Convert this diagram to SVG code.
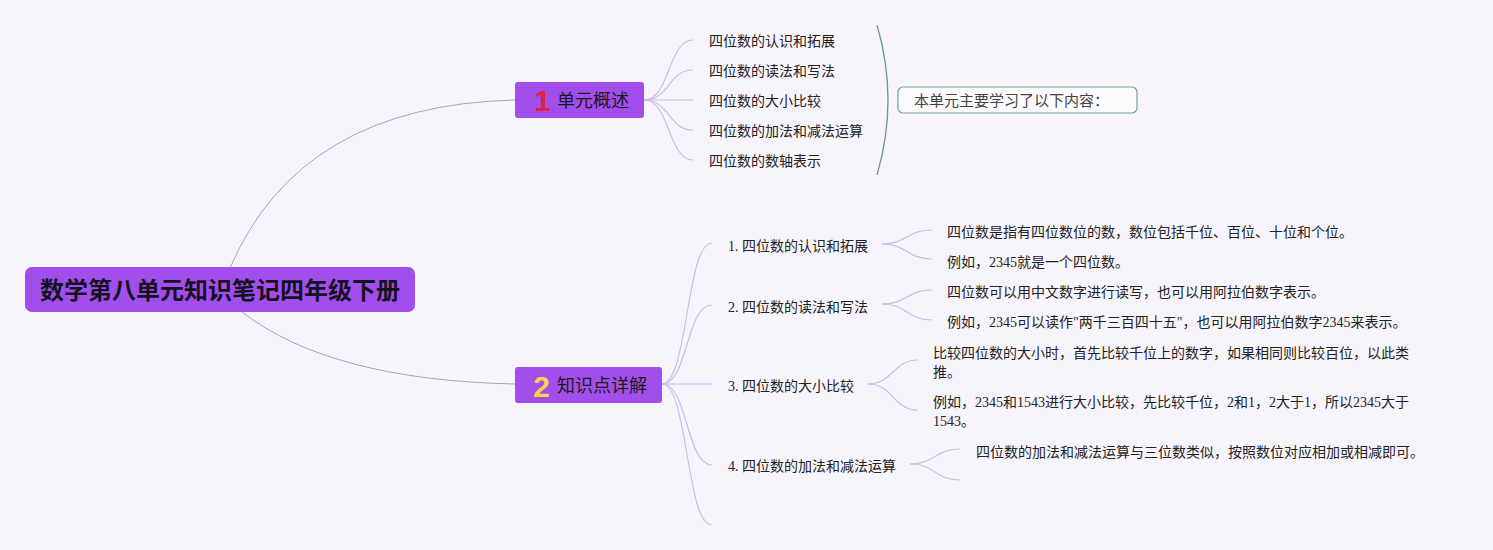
<svg xmlns="http://www.w3.org/2000/svg" width="1493" height="550" viewBox="0 0 1493 550">
<style>
.bg{fill:#f7f5fb}
.main{fill:#a24eec}
.root-t{font-family:"Liberation Sans","Noto Sans CJK SC",sans-serif;font-size:24px;font-weight:bold;fill:#15121f}
.n1-t{font-family:"Liberation Sans","Noto Sans CJK SC",sans-serif;font-size:18px;fill:#1a1a1a}
.badge{font-family:"Liberation Sans","Noto Sans CJK SC",sans-serif;font-size:30px;font-weight:900}
.leaf{font-family:"Liberation Serif","Noto Sans CJK SC",serif;font-size:14px;fill:#222}
.sum-t{font-family:"Liberation Sans","Noto Sans CJK SC",sans-serif;font-size:15px;fill:#444}
.c-root{fill:none;stroke:#aaa3c6;stroke-width:1}
.c{fill:none;stroke:#c8bfe4;stroke-width:1.2}
</style>
<rect class="bg" x="0" y="0" width="1493" height="550"/>
<g id="connectors">
<path class="c-root" d="M230,268 Q300,105 515,100"/>
<path class="c-root" d="M242,312 Q330,380 515,384"/>
<path class="c" d="M644,100 C670,100 668,40 693,40"/>
<path class="c" d="M644,100 C670,100 668,70 693,70"/>
<path class="c" d="M644,100 L693,100"/>
<path class="c" d="M644,100 C670,100 668,130 693,130"/>
<path class="c" d="M644,100 C670,100 668,160 693,160"/>
<path class="c" d="M662,384 C688,384 686,243 712,243"/>
<path class="c" d="M662,384 C688,384 686,305 712,305"/>
<path class="c" d="M662,384 L712,384"/>
<path class="c" d="M662,384 C688,384 686,465 712,465"/>
<path class="c" d="M662,384 C688,384 686,525 712,525"/>
<path class="c" d="M882,244 C907,244 907,230 932,230"/>
<path class="c" d="M882,244 C907,244 907,259 932,259"/>
<path class="c" d="M882,304 C907,304 907,290 932,290"/>
<path class="c" d="M882,304 C907,304 907,320 932,320"/>
<path class="c" d="M868,384 C893,384 893,360 918,360"/>
<path class="c" d="M868,384 C893,384 893,410 918,410"/>
<path class="c" d="M910,464 C935,464 935,449 960,449"/>
<path class="c" d="M910,464 C935,464 935,480 960,480"/>
<path d="M877,25 Q899,100 877,175" fill="none" stroke="#5f9c8c" stroke-width="1.3"/>
</g>
<g id="root">
<rect class="main" x="25" y="267" width="390" height="45" rx="7"/>
<text class="root-t" x="220" y="290" text-anchor="middle" dominant-baseline="central">数学第八单元知识笔记四年级下册</text>
</g>
<g id="node-1">
<rect class="main" x="515" y="82" width="129" height="36" rx="3"/>
<text class="badge" x="542.5" y="100" text-anchor="middle" dominant-baseline="central" fill="#e2213c">1</text>
<text class="n1-t" x="557" y="101" dominant-baseline="central">单元概述</text>
</g>
<g id="node-2">
<rect class="main" x="515" y="367" width="147" height="36" rx="3"/>
<text class="badge" x="541.5" y="386" text-anchor="middle" dominant-baseline="central" fill="#f7d24f">2</text>
<text class="n1-t" x="557" y="386" dominant-baseline="central">知识点详解</text>
</g>
<g id="n1-leaves">
<text class="leaf" x="709" y="41" dominant-baseline="central">四位数的认识和拓展</text>
<text class="leaf" x="709" y="71" dominant-baseline="central">四位数的读法和写法</text>
<text class="leaf" x="709" y="101" dominant-baseline="central">四位数的大小比较</text>
<text class="leaf" x="709" y="131" dominant-baseline="central">四位数的加法和减法运算</text>
<text class="leaf" x="709" y="161" dominant-baseline="central">四位数的数轴表示</text>
</g>
<g id="summary">
<rect x="898" y="87" width="239" height="26" rx="5" fill="#fbfbfd" stroke="#6fa595" stroke-width="1.2"/>
<text class="sum-t" x="914" y="100" dominant-baseline="central">本单元主要学习了以下内容：</text>
</g>
<g id="sub-1">
<text class="leaf" x="728" y="246" dominant-baseline="central">1. 四位数的认识和拓展</text>
</g>
<g id="sub-2">
<text class="leaf" x="728" y="307" dominant-baseline="central">2. 四位数的读法和写法</text>
</g>
<g id="sub-3">
<text class="leaf" x="728" y="386" dominant-baseline="central">3. 四位数的大小比较</text>
</g>
<g id="sub-4">
<text class="leaf" x="728" y="466" dominant-baseline="central">4. 四位数的加法和减法运算</text>
</g>
<g id="detail-1a"><text class="leaf" x="947" y="232" dominant-baseline="central">四位数是指有四位数位的数，数位包括千位、百位、十位和个位。</text></g>
<g id="detail-1b"><text class="leaf" x="947" y="262" dominant-baseline="central">例如，2345就是一个四位数。</text></g>
<g id="detail-2a"><text class="leaf" x="947" y="292" dominant-baseline="central">四位数可以用中文数字进行读写，也可以用阿拉伯数字表示。</text></g>
<g id="detail-2b"><text class="leaf" x="947" y="322" dominant-baseline="central">例如，2345可以读作"两千三百四十五"，也可以用阿拉伯数字2345来表示。</text></g>
<g id="detail-3a">
<text class="leaf" x="933" y="353" dominant-baseline="central">比较四位数的大小时，首先比较千位上的数字，如果相同则比较百位，以此类</text>
<text class="leaf" x="933" y="372" dominant-baseline="central">推。</text>
</g>
<g id="detail-3b">
<text class="leaf" x="933" y="402" dominant-baseline="central">例如，2345和1543进行大小比较，先比较千位，2和1，2大于1，所以2345大于</text>
<text class="leaf" x="933" y="421" dominant-baseline="central">1543。</text>
</g>
<g id="detail-4"><text class="leaf" x="976" y="452" dominant-baseline="central">四位数的加法和减法运算与三位数类似，按照数位对应相加或相减即可。</text></g>
</svg>
